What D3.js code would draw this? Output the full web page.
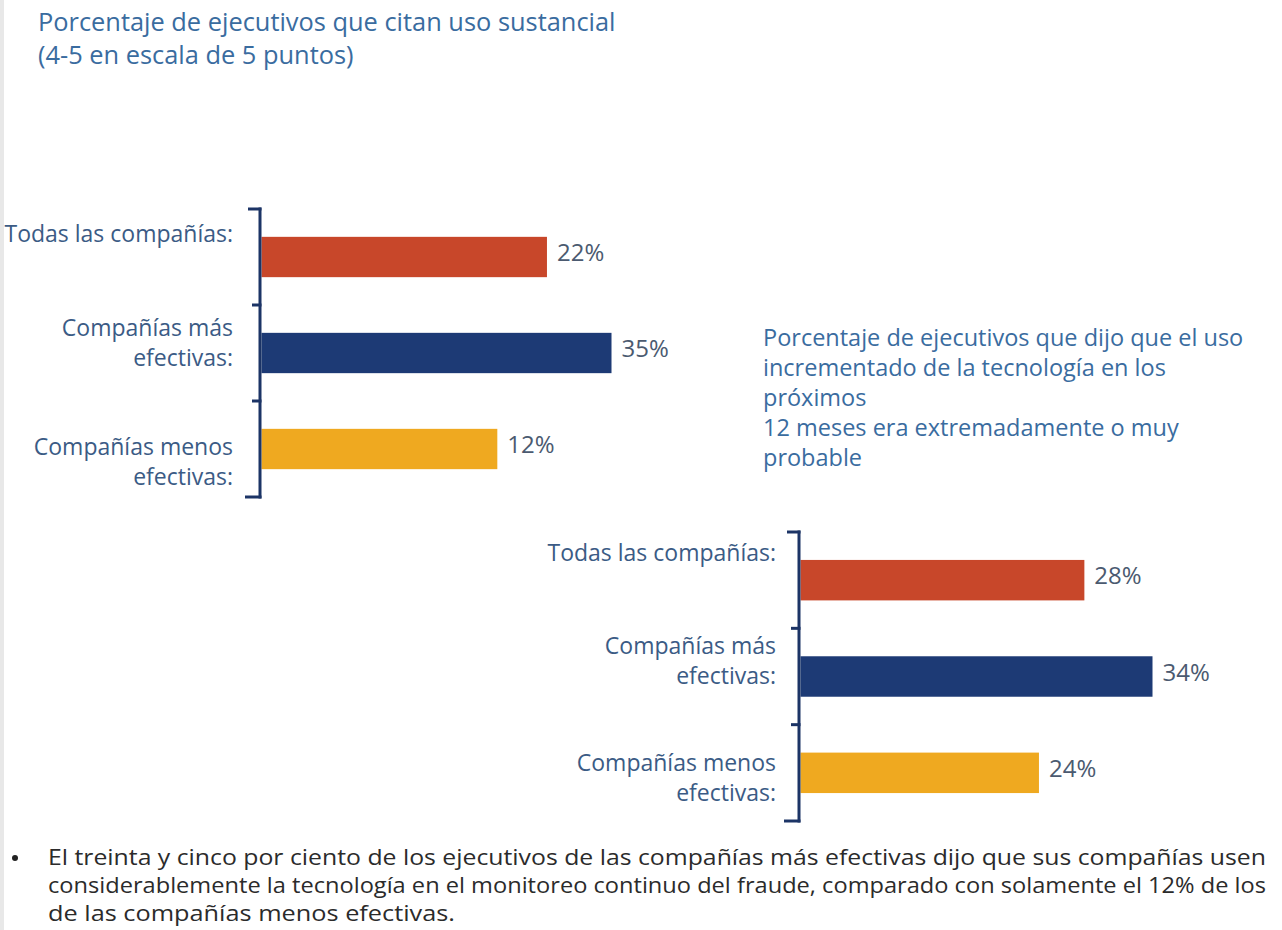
<!DOCTYPE html>
<html>
<head>
<meta charset="utf-8">
<script src="https://cdn.jsdelivr.net/npm/d3@7"></script>
<style>
  html, body { margin: 0; padding: 0; background: #ffffff; }
  svg { display: block; }
</style>
</head>
<body>
<svg id="chart" width="1282" height="930"></svg>
<script>
// ---- data ----
const categories = ["todas", "mas", "menos"];
const categoryLabels = [
  ["Todas las compañías:"],
  ["Compañías más", "efectivas:"],
  ["Compañías menos", "efectivas:"]
];
const usoSustancial = [22, 35, 12];
const usoIncrementado = [28, 34, 24];
const title1Lines = ["Porcentaje de ejecutivos que citan uso sustancial", "(4-5 en escala de 5 puntos)"];
const title2Lines = [
  "Porcentaje de ejecutivos que dijo que el uso",
  "incrementado de la tecnología en los",
  "próximos",
  "12 meses era extremadamente o muy",
  "probable"
];
const noteLines = [
  "El treinta y cinco por ciento de los ejecutivos de las compañías más efectivas dijo que sus compañías usen",
  "considerablemente la tecnología en el monitoreo continuo del fraude, comparado con solamente el 12% de los",
  "de las compañías menos efectivas."
];

// ---- styles ----
const barColors = ["#c8472a", "#1d3a75", "#efa920"];
const axisColor = "#1c3466";
const labelColor = "#3b5b85";
const valueColor = "#4b5a70";
const titleColor = "#3a6c9f";
const fontFamily = "'Open Sans', 'Noto Sans', sans-serif";

const svg = d3.select("#chart");

// thin grey strip along the left edge of the page
svg.append("rect").attr("x", 0).attr("y", 0).attr("width", 4).attr("height", 930).attr("fill", "#e8e8e8");

// ---- titles ----
svg.append("g").selectAll("text").data(title1Lines).join("text")
  .attr("x", 38).attr("y", (d, i) => 31 + i * 33)
  .attr("font-family", fontFamily).attr("font-size", 25.4)
  .attr("fill", titleColor).text(d => d);

svg.append("g").selectAll("text").data(title2Lines).join("text")
  .attr("x", 763).attr("y", (d, i) => 346 + i * 30)
  .attr("font-family", fontFamily).attr("font-size", 23.5)
  .attr("fill", titleColor).text(d => d);

// ---- one bracketed bar panel ----
function drawPanel(opts) {
  const { values, axisX, top, bottom, domain, maxWidth, labelRight, labelOffsets } = opts;
  const g = svg.append("g");

  const y = d3.scaleBand().domain(categories).range([top, bottom])
    .paddingInner(0.58).paddingOuter(0.29);
  const x = d3.scaleLinear().domain(domain).range([axisX + 1.5, axisX + 1.5 + maxWidth]);

  // bars
  g.selectAll("rect.bar").data(values).join("rect")
    .attr("class", "bar")
    .attr("x", x(domain[0]))
    .attr("y", (d, i) => y(categories[i]))
    .attr("width", d => x(d) - x(domain[0]))
    .attr("height", y.bandwidth())
    .attr("fill", (d, i) => barColors[i]);

  // value labels
  g.selectAll("text.val").data(values).join("text")
    .attr("class", "val")
    .attr("x", d => x(d) + 10)
    .attr("y", (d, i) => y(categories[i]) + y.bandwidth() / 2 + 4)
    .attr("font-family", fontFamily).attr("font-size", 24)
    .attr("fill", valueColor).text(d => d + "%");

  // bracket axis: spine, end caps and ticks at band boundaries
  const step = y.step();
  const bounds = d3.range(categories.length + 1).map(i => top + i * step);
  g.append("line")
    .attr("x1", axisX).attr("x2", axisX)
    .attr("y1", top - 1.5).attr("y2", bottom + 1.5)
    .attr("stroke", axisColor).attr("stroke-width", 3);
  g.selectAll("line.tick").data(bounds).join("line")
    .attr("class", "tick")
    .attr("x1", (d, i) => i === 0 ? axisX - 12 : (i === bounds.length - 1 ? axisX - 15 : axisX - 8))
    .attr("x2", axisX + 1.5)
    .attr("y1", d => d).attr("y2", d => d)
    .attr("stroke", axisColor).attr("stroke-width", 3);

  // category labels, right-aligned to the left of the bracket
  categories.forEach((c, i) => {
    g.append("g").selectAll("text").data(categoryLabels[i]).join("text")
      .attr("x", labelRight)
      .attr("y", (d, j) => y(c) + labelOffsets[i] + j * 30)
      .attr("text-anchor", "end")
      .attr("font-family", fontFamily).attr("font-size", 23)
      .attr("fill", labelColor).text(d => d);
  });
}

drawPanel({
  values: usoSustancial,
  axisX: 260, top: 209, bottom: 497,
  domain: [-35.5, 35], maxWidth: 350,
  labelRight: 233,
  labelOffsets: [5, 3, 26]
});

drawPanel({
  values: usoIncrementado,
  axisX: 799, top: 532, bottom: 821,
  domain: [3, 34], maxWidth: 352,
  labelRight: 776,
  labelOffsets: [1, -2, 18]
});

// ---- bullet note ----
svg.append("circle").attr("cx", 15).attr("cy", 858).attr("r", 3).attr("fill", "#222");
const noteWidths = [1218, 1218, 407];
svg.append("g").selectAll("text").data(noteLines).join("text")
  .attr("x", 48).attr("y", (d, i) => 865 + i * 28)
  .attr("font-family", fontFamily).attr("font-size", 21)
  .attr("fill", "#2b2b2b")
  .attr("textLength", (d, i) => noteWidths[i])
  .attr("lengthAdjust", "spacingAndGlyphs")
  .text(d => d);
</script>
</body>
</html>
